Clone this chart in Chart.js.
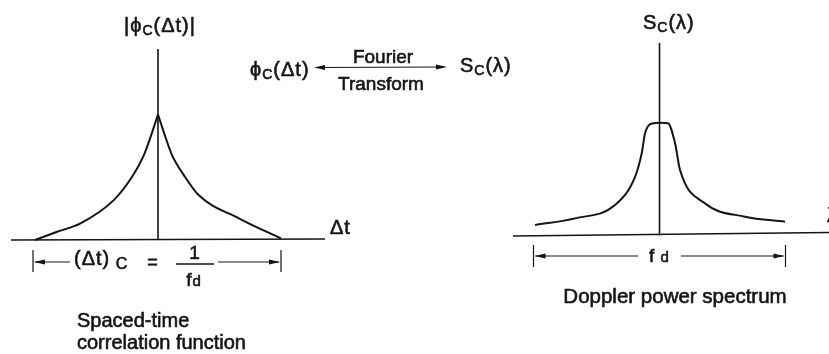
<!DOCTYPE html>
<html>
<head>
<meta charset="utf-8">
<script src="https://cdn.jsdelivr.net/npm/chart.js@4.4.0/dist/chart.umd.min.js"></script>
<style>
  html, body { margin: 0; padding: 0; background: #fff; }
  canvas { display: block; }
</style>
</head>
<body>
<canvas id="fig" width="829" height="354"></canvas>
<script>
// |phi_c(dt)| : lag in units of half the coherence time, value normalised to the peak
const corrLagLeft = [-1, -0.82, -0.63, -0.36, -0.22, -0.115, -0.047, 0];
const corrLeft    = [0, 0.066, 0.133, 0.318, 0.49, 0.676, 0.86, 1];
const corrLagRight = [0, 0.047, 0.114, 0.21, 0.33, 0.657, 1.0];
const corrRight    = [1, 0.86, 0.676, 0.517, 0.358, 0.173, 0.012];

// S_c(lambda) : frequency in units of f_d / 2
const dopplerFreq  = [-0.988, -0.67, -0.353, -0.194, -0.141, -0.115, -0.05, 0, 0.067, 0.123, 0.163, 0.36, 0.68, 0.996];
const dopplerPower = [0.093, 0.152, 0.27, 0.52, 0.73, 0.905, 0.995, 1, 0.995, 0.82, 0.58, 0.285, 0.167, 0.122];

const W = 829, H = 354;
const INK = '#141414';
const FONT = '"Liberation Sans", Arial, Helvetica, sans-serif';

// where each little plot sits on the page (pixels)
const leftPanel  = { cx: 158,   half: 123, base: 240,   peak: 125.5 };
const rightPanel = { cx: 659.5, half: 126, base: 235.5, peak: 112.8 };

function xRange(p) { return { min: -p.cx / p.half, max: (W - p.cx) / p.half }; }
function yRange(p) { return { min: -(H - p.base) / p.peak, max: p.base / p.peak }; }

function pts(xs, ys) { return ys.map((v, i) => ({ x: xs[i], y: v })); }

function arrowHead(ctx, x, y, dir) {
    ctx.beginPath();
    ctx.moveTo(x, y);
    ctx.lineTo(x - dir * 11, y - 2.6);
    ctx.lineTo(x - dir * 11, y + 2.6);
    ctx.closePath();
    ctx.fill();
}

function line(ctx, x1, y1, x2, y2, w) {
    ctx.lineWidth = w || 1.6;
    ctx.beginPath();
    ctx.moveTo(x1, y1);
    ctx.lineTo(x2, y2);
    ctx.stroke();
}

// text made of runs: [text, size, dy]; stroked a little so it reads heavier
function rich(ctx, parts, x, y, align) {
    let total = 0;
    parts.forEach(p => {
        ctx.font = p[1] + 'px ' + FONT;
        total += ctx.measureText(p[0]).width;
    });
    let cx = align === 'center' ? x - total / 2 : x;
    ctx.textAlign = 'left';
    ctx.lineWidth = 0.6;
    parts.forEach(p => {
        ctx.font = p[1] + 'px ' + FONT;
        ctx.fillText(p[0], cx, y + (p[2] || 0));
        ctx.strokeText(p[0], cx, y + (p[2] || 0));
        cx += ctx.measureText(p[0]).width;
    });
}

const figurePlugin = {
    id: 'figure',
    beforeDatasetsDraw(chart) {
        const ctx = chart.ctx;
        const s = chart.scales;
        ctx.save();
        ctx.strokeStyle = INK;
        ctx.fillStyle = INK;

        // left axes
        const x0L = s.xL.getPixelForValue(0);
        const y0L = s.yL.getPixelForValue(0);
        line(ctx, 11, y0L, 325, y0L - 1, 1.6);
        line(ctx, x0L, 49, x0L, y0L, 1.6);

        // right axes
        const x0R = s.xR.getPixelForValue(0);
        const y0R = s.yR.getPixelForValue(0);
        line(ctx, 513, y0R + 0.5, W, y0R - 3, 1.6);
        line(ctx, x0R, 43, x0R, y0R, 1.6);
        ctx.restore();
    },
    afterDraw(chart) {
        const ctx = chart.ctx;
        const s = chart.scales;
        ctx.save();
        ctx.strokeStyle = INK;
        ctx.fillStyle = INK;
        ctx.textBaseline = 'alphabetic';
        ctx.letterSpacing = '1px';

        // ---- left panel labels
        const xLa = s.xL.getPixelForValue(-1);
        const xLb = s.xL.getPixelForValue(1);
        rich(ctx, [['|\u03d5', 20], ['C', 14, 3], ['(\u0394t)|', 20]], s.xL.getPixelForValue(0) + 2, 32, 'center');
        rich(ctx, [['\u0394t', 20]], 330, 234, 'left');

        // (dt)_c = 1/f_d dimension line
        line(ctx, xLa - 2, 250, xLa - 2, 272, 1.2);
        line(ctx, xLb, 250, xLb, 272, 1.2);
        line(ctx, xLa, 262, 70, 262, 1.2);
        arrowHead(ctx, xLa - 1, 262, -1);
        rich(ctx, [['(\u0394t)', 20], [' C', 16, 4]], 74, 265, 'left');
        rich(ctx, [['=', 18]], 153, 268, 'center');
        rich(ctx, [['1', 19]], 195, 259, 'center');
        line(ctx, 176, 264, 214, 264, 1.3);
        rich(ctx, [['f', 19], ['d', 15]], 194, 286, 'center');
        line(ctx, 218, 262, xLb - 2, 262, 1.2);
        arrowHead(ctx, xLb - 1, 262, 1);

        ctx.letterSpacing = '0px';
        rich(ctx, [['Spaced-time', 20]], 77, 327, 'left');
        rich(ctx, [['correlation function', 20]], 77, 349, 'left');

        // ---- transform pair in the middle
        ctx.letterSpacing = '1px';
        rich(ctx, [['\u03d5', 20], ['C', 14, 3], ['(\u0394t)', 20]], 250, 76, 'left');
        line(ctx, 316, 67.5, 444, 67, 1.2);
        arrowHead(ctx, 314, 67.5, -1);
        arrowHead(ctx, 447, 67, 1);
        ctx.letterSpacing = '0px';
        rich(ctx, [['Fourier', 19]], 383, 63, 'center');
        rich(ctx, [['Transform', 19]], 381, 90, 'center');
        ctx.letterSpacing = '1px';
        rich(ctx, [['S', 20], ['C', 14, 3], ['(\u03bb)', 20]], 460, 72, 'left');

        // ---- right panel labels
        const xRa = s.xR.getPixelForValue(-1);
        const xRb = s.xR.getPixelForValue(1);
        rich(ctx, [['S', 20], ['C', 14, 3], ['(\u03bb)', 20]], 643, 29, 'left');
        rich(ctx, [['\u03bb', 20]], 827, 222, 'left');

        line(ctx, xRa, 245, xRa, 267, 1.2);
        line(ctx, xRb, 245, xRb, 267, 1.2);
        line(ctx, xRa + 2, 256, 638, 256, 1.2);
        arrowHead(ctx, xRa + 1, 256, -1);
        rich(ctx, [['f', 19], [' d', 15]], 649, 262, 'left');
        line(ctx, 681, 256, xRb - 2, 256, 1.2);
        arrowHead(ctx, xRb - 1, 256, 1);

        ctx.letterSpacing = '0px';
        rich(ctx, [['Doppler power spectrum', 20.5]], 675, 303, 'center');
        ctx.restore();
    }
};

const curveStyle = {
    showLine: true,
    borderColor: INK,
    borderWidth: 2,
    pointRadius: 0,
    fill: false,
    cubicInterpolationMode: 'monotone'
};

new Chart(document.getElementById('fig'), {
    type: 'scatter',
    data: {
        datasets: [
            Object.assign({ label: 'corr-', data: pts(corrLagLeft, corrLeft), xAxisID: 'xL', yAxisID: 'yL' }, curveStyle),
            Object.assign({ label: 'corr+', data: pts(corrLagRight, corrRight), xAxisID: 'xL', yAxisID: 'yL' }, curveStyle),
            Object.assign({ label: 'doppler', data: pts(dopplerFreq, dopplerPower), xAxisID: 'xR', yAxisID: 'yR' }, curveStyle)
        ]
    },
    options: {
        responsive: false,
        animation: false,
        devicePixelRatio: 1,
        layout: { padding: 0 },
        plugins: { legend: { display: false }, tooltip: { enabled: false } },
        scales: {
            xL: Object.assign({ type: 'linear', display: false, position: 'bottom' }, xRange(leftPanel)),
            yL: Object.assign({ type: 'linear', display: false, position: 'left' }, yRange(leftPanel)),
            xR: Object.assign({ type: 'linear', display: false, position: 'bottom' }, xRange(rightPanel)),
            yR: Object.assign({ type: 'linear', display: false, position: 'right' }, yRange(rightPanel))
        }
    },
    plugins: [figurePlugin]
});
</script>
</body>
</html>
